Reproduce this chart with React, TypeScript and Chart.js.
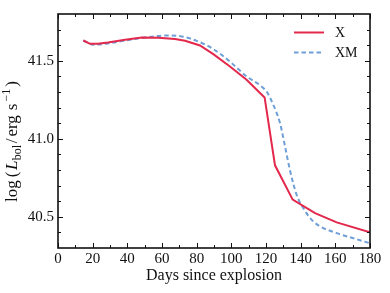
import React, { useEffect, useRef } from "react";
import { Chart, registerables } from "chart.js";

Chart.register(...registerables);

// Model X (solid red)
const xDays = [14.6, 18.5, 23, 28.8, 38.7, 48.3, 57.9, 67.5, 73.3, 81.9, 89.6, 99.2, 108.8, 119.2, 125.2, 135.4, 148.3, 160.8, 180];
const xLum = [41.63, 41.609, 41.61, 41.617, 41.635, 41.65, 41.648, 41.64, 41.628, 41.598, 41.543, 41.463, 41.378, 41.265, 40.83, 40.61, 40.524, 40.464, 40.4];

// Model XM (dashed blue)
const xmDays = [14.6, 20.4, 28, 36, 44.4, 52, 61.7, 71.4, 80, 89.6, 99.2, 108.8, 117.5, 120.5, 123.3, 128.1, 131, 133.8, 137.7, 141.5, 147.3, 160.8, 170.4, 180];
const xmLum = [41.63, 41.603, 41.61, 41.625, 41.64, 41.652, 41.662, 41.656, 41.628, 41.575, 41.495, 41.4, 41.335, 41.3, 41.24, 41.1, 40.95, 40.8, 40.64, 40.556, 40.47, 40.395, 40.363, 40.33];

const xMajorTicks = [0, 20, 40, 60, 80, 100, 120, 140, 160, 180];
const xMinorTicks = [10, 30, 50, 70, 90, 110, 130, 150, 170];
const yMajorTicks = [40.5, 41.0, 41.5];
const yMinorTicks = [40.4, 40.6, 40.7, 40.8, 40.9, 41.1, 41.2, 41.3, 41.4, 41.6, 41.7];

const seriesLabels = ["X", "XM"];
const xTitle = "Days since explosion";

const RED = "#E3284C";
const BLUE = "#6E9FD6";
const SERIF = '"Liberation Serif", "DejaVu Serif", serif';

const framePlugin = {
  id: "frame",
  afterDraw(chart: any) {
    const { ctx, chartArea: a, scales } = chart;
    const xs = scales.x;
    const ys = scales.y;
    ctx.save();
    ctx.strokeStyle = "#111";
    ctx.lineWidth = 1;
    const tickX = (v: number, len: number) => {
      const px = Math.round(xs.getPixelForValue(v)) + 0.5;
      ctx.beginPath();
      ctx.moveTo(px, a.bottom);
      ctx.lineTo(px, a.bottom - len);
      ctx.moveTo(px, a.top);
      ctx.lineTo(px, a.top + len);
      ctx.stroke();
    };
    const tickY = (v: number, len: number) => {
      const py = Math.round(ys.getPixelForValue(v)) + 0.5;
      ctx.beginPath();
      ctx.moveTo(a.left, py);
      ctx.lineTo(a.left + len, py);
      ctx.moveTo(a.right, py);
      ctx.lineTo(a.right - len, py);
      ctx.stroke();
    };
    xMajorTicks.forEach((v) => tickX(v, 5));
    xMinorTicks.forEach((v) => tickX(v, 3));
    yMajorTicks.forEach((v) => tickY(v, 5));
    yMinorTicks.forEach((v) => tickY(v, 3));

    ctx.lineWidth = 1.6;
    ctx.strokeRect(a.left, a.top, a.right - a.left, a.bottom - a.top);

    // x title
    ctx.fillStyle = "#111";
    ctx.font = `16px ${SERIF}`;
    ctx.textAlign = "center";
    ctx.textBaseline = "alphabetic";
    ctx.fillText(xTitle, (a.left + a.right) / 2, 280);

    // y title: log(L_bol/erg s^-1)
    ctx.save();
    ctx.translate(17, 202);
    ctx.rotate(-Math.PI / 2);
    ctx.textAlign = "left";
    const big = `17px ${SERIF}`;
    const small = `12px ${SERIF}`;
    const parts: [string, string, number, number][] = [
      ["log", big, 0, 3],
      ["(", big, 0, 1.5],
      ["L", `italic ${big}`, 0, 0.5],
      ["bol", small, 3.5, 1.5],
      ["/", big, 0, 2],
      ["erg", big, 0, 5],
      ["s", big, 0, 2],
      ["\u22121", small, -7.5, 2],
      [")", big, 0, 0],
    ];
    let cx = 0;
    for (const [t, f, dy, gap] of parts) {
      ctx.font = f;
      ctx.fillText(t, cx, dy);
      cx += ctx.measureText(t).width + gap;
    }
    ctx.restore();

    // legend
    const lx0 = 294, lx1 = 324, tx = 335;
    const rows = [32.5, 52.5];
    ctx.font = `14px ${SERIF}`;
    ctx.textAlign = "left";
    ctx.textBaseline = "middle";
    chart.data.datasets.forEach((ds: any, i: number) => {
      ctx.save();
      ctx.strokeStyle = ds.borderColor;
      ctx.lineWidth = ds.borderWidth;
      ctx.setLineDash(ds.borderDash || []);
      ctx.beginPath();
      ctx.moveTo(lx0, rows[i]);
      ctx.lineTo(lx1, rows[i]);
      ctx.stroke();
      ctx.restore();
      ctx.fillStyle = "#111";
      ctx.fillText(ds.label, tx, rows[i] + 1);
    });
    ctx.restore();
  },
};

export default function App() {
  const ref = useRef<HTMLCanvasElement | null>(null);
  useEffect(() => {
    document.body.style.margin = "0";
    const canvas = ref.current;
    if (!canvas) return;
    const chart = new Chart(canvas, {
      type: "line",
      data: {
        datasets: [
          {
            label: seriesLabels[0],
            data: xDays.map((d, i) => ({ x: d, y: xLum[i] })),
            borderColor: RED,
            borderWidth: 2,
            pointRadius: 0,
            tension: 0,
            fill: false,
          },
          {
            label: seriesLabels[1],
            data: xmDays.map((d, i) => ({ x: d, y: xmLum[i] })),
            borderColor: BLUE,
            borderWidth: 2,
            borderDash: [4.5, 3],
            pointRadius: 0,
            cubicInterpolationMode: "monotone",
            fill: false,
          },
        ],
      },
      options: {
        responsive: false,
        animation: false,
        devicePixelRatio: 1,
        layout: { padding: { left: 8, top: 14, right: 20, bottom: 0 } },
        plugins: { legend: { display: false }, tooltip: { enabled: false } },
        scales: {
          x: {
            type: "linear",
            min: 0,
            max: 180,
            afterBuildTicks: (s: any) => {
              s.ticks = xMajorTicks.map((v) => ({ value: v }));
            },
            afterFit: (s: any) => {
              s.height = 45;
            },
            ticks: {
              color: "#111",
              font: { family: SERIF, size: 15 },
              padding: 2,
              maxRotation: 0,
              autoSkip: false,
              callback: (v: any) => String(v),
            },
            grid: { display: false, drawTicks: false },
            border: { display: false },
          },
          y: {
            type: "linear",
            min: 40.3,
            max: 41.8,
            afterBuildTicks: (s: any) => {
              s.ticks = yMajorTicks.map((v) => ({ value: v }));
            },
            afterFit: (s: any) => {
              s.width = 50;
            },
            ticks: {
              color: "#111",
              font: { family: SERIF, size: 15 },
              padding: 4,
              autoSkip: false,
              callback: (v: any) => Number(v).toFixed(1),
            },
            grid: { display: false, drawTicks: false },
            border: { display: false },
          },
        },
      },
      plugins: [framePlugin],
    } as any);
    return () => chart.destroy();
  }, []);
  return (
    <div style={{ position: "absolute", left: 0, top: 0, width: 390, height: 293, background: "#fff" }}>
      <canvas ref={ref} width={390} height={293} style={{ width: 390, height: 293, display: "block" }} />
    </div>
  );
}
